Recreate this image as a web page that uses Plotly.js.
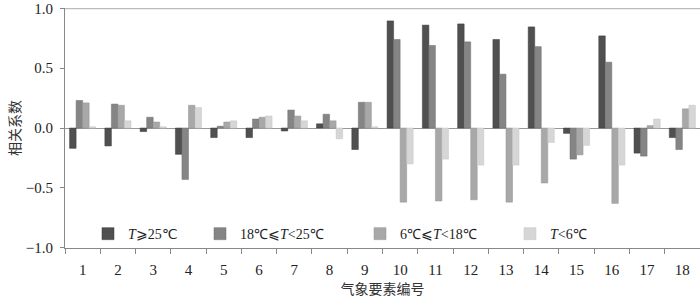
<!DOCTYPE html>
<html>
<head>
<meta charset="utf-8">
<script src="https://cdn.plot.ly/plotly-3.0.1.min.js"></script>
<style>html,body{margin:0;padding:0;background:#fff;}#chart{width:700px;height:302px;}</style>
</head>
<body>
<div id="chart"></div>
<script>
const categories = ["1","2","3","4","5","6","7","8","9","10","11","12","13","14","15","16","17","18"];
const seriesNames = ["<i>T</i>⩾25℃", "18℃⩽<i>T</i>&lt;25℃", "6℃⩽<i>T</i>&lt;18℃", "<i>T</i>&lt;6℃"];
const tAbove25 = [-0.17, -0.15, -0.03, -0.22, -0.08, -0.08, -0.025, 0.035, -0.18, 0.895, 0.86, 0.87, 0.74, 0.845, -0.045, 0.77, -0.21, -0.08];
const t18to25 = [0.23, 0.20, 0.09, -0.43, 0.015, 0.075, 0.15, 0.115, 0.215, 0.74, 0.69, 0.72, 0.45, 0.68, -0.26, 0.55, -0.235, -0.18];
const t6to18 = [0.21, 0.19, 0.05, 0.19, 0.05, 0.09, 0.10, 0.06, 0.215, -0.62, -0.61, -0.60, -0.62, -0.46, -0.225, -0.63, 0.02, 0.16];
const tBelow6 = [0.01, 0.06, 0.01, 0.17, 0.06, 0.10, 0.06, -0.09, 0.01, -0.30, -0.26, -0.31, -0.31, -0.12, -0.145, -0.31, 0.075, 0.19];
const yTickVals = [-1, -0.5, 0, 0.5, 1];
const yTickText = ["−1.0", "−0.5", "0.0", "0.5", "1.0"];

const colors = ["#505050", "#858585", "#a8a8a8", "#d6d6d6"];
const edge = ["#3a3a3a", "#6e6e6e", "#959595", "#c4c4c4"];
const allSeries = [tAbove25, t18to25, t6to18, tBelow6];
const legendIds = ["legend", "legend2", "legend3", "legend4"];

const traces = allSeries.map((vals, i) => ({
  type: "bar",
  x: categories,
  y: vals,
  name: seriesNames[i],
  marker: {color: colors[i], line: {color: edge[i], width: 0.5}},
  legend: legendIds[i],
  hoverinfo: "x+y+name"
}));

const serif = "Liberation Serif, Times New Roman, serif";
const cjk = "Noto Sans CJK SC, sans-serif";
const legendX = [0.0362, 0.2126, 0.4646, 0.7008];
const legendBase = (x) => ({
  x: x, y: 0.058, xanchor: "left", yanchor: "middle",
  orientation: "h", bgcolor: "rgba(0,0,0,0)", borderwidth: 0,
  font: {family: serif, size: 14, color: "#222"}
});

const layout = {
  width: 700, height: 302,
  margin: {l: 65, r: 0, t: 8, b: 54},
  paper_bgcolor: "#fff", plot_bgcolor: "#fff",
  barmode: "group", bargap: 0.26, bargroupgap: 0,
  showlegend: true,
  legend: legendBase(legendX[0]),
  legend2: legendBase(legendX[1]),
  legend3: legendBase(legendX[2]),
  legend4: legendBase(legendX[3]),
  xaxis: {
    type: "category",
    tickson: "boundaries",
    ticks: "outside", ticklen: 5, tickcolor: "#888", tickwidth: 1,
    showline: true, linecolor: "#888", linewidth: 1,
    showgrid: false, zeroline: false,
    ticklabelstandoff: 8,
    tickfont: {family: serif, size: 15, color: "#222"},
    title: {text: "气象要素编号", font: {family: cjk, size: 14, color: "#333"}, standoff: 7},
    fixedrange: true
  },
  yaxis: {
    range: [-1.003, 1.003],
    tickvals: yTickVals,
    ticktext: yTickText,
    ticks: "outside", ticklen: 4, tickcolor: "#888",
    showline: true, linecolor: "#888", linewidth: 1,
    showgrid: false,
    zeroline: true, zerolinecolor: "#999", zerolinewidth: 1,
    ticklabelstandoff: 4,
    tickfont: {family: serif, size: 15, color: "#222"},
    title: {text: "相关系数", font: {family: cjk, size: 14, color: "#333"}, standoff: 1},
    fixedrange: true
  },
  shapes: [{
    type: "line", xref: "paper", yref: "y", x0: 0, x1: 1, y0: 1, y1: 1,
    line: {color: "#bbbbbb", width: 2}
  }]
};

Plotly.newPlot("chart", traces, layout, {displayModeBar: false, staticPlot: true});
</script>
</body>
</html>
